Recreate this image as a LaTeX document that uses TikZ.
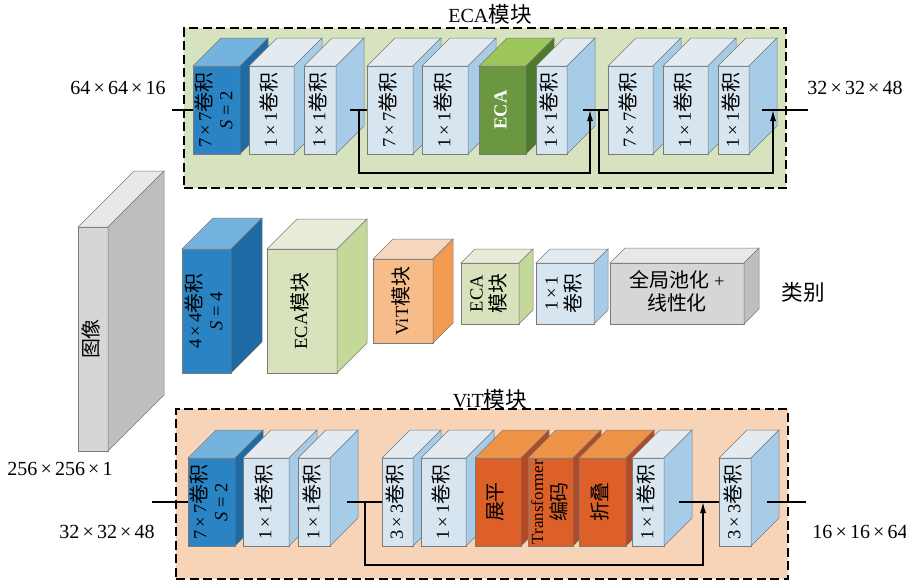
\documentclass[tikz,border=0pt]{standalone}
\usepackage{fontspec}
\setmainfont{Liberation Serif}
\newfontfamily\zhfont{Noto Sans CJK SC}[Scale=1.08]
\usetikzlibrary{arrows.meta}

% face colours: f = front, t = top, s = side
\definecolor{dbluef}{HTML}{2A84C4}\definecolor{dbluet}{HTML}{75B3DF}\definecolor{dblues}{HTML}{1E6AA4}
\definecolor{lbluef}{HTML}{D6E5EF}\definecolor{lbluet}{HTML}{E3EBF0}\definecolor{lblues}{HTML}{A7CCE7}
\definecolor{greenf}{HTML}{6A973F}\definecolor{greent}{HTML}{9DC65A}\definecolor{greens}{HTML}{4E7A2F}
\definecolor{oredf}{HTML}{DD6028}\definecolor{oredt}{HTML}{EE9448}\definecolor{oreds}{HTML}{B34A27}
\definecolor{orangef}{HTML}{F6BC8A}\definecolor{oranget}{HTML}{F6D6BD}\definecolor{oranges}{HTML}{F29A50}
\definecolor{mgreenf}{HTML}{D8E3BE}\definecolor{mgreent}{HTML}{E7EBD8}\definecolor{mgreens}{HTML}{C4D898}
\definecolor{grayf}{HTML}{D5D6D8}\definecolor{grayt}{HTML}{E8E8E9}\definecolor{grays}{HTML}{BDBEBF}
\definecolor{ecabg}{HTML}{D7E3BE}
\definecolor{vitbg}{HTML}{F7D4B8}
\definecolor{edgegray}{HTML}{7A7A7A}

\newcommand{\cn}[1]{{\zhfont #1}}
\newcommand{\tms}{\hspace{0.16em}×\hspace{0.16em}}
\newcommand{\rot}[1]{\rotatebox{90}{\begin{tabular}{@{}c@{}}#1\end{tabular}}}

% cuboid: name, x, y, width, height, depth, colour, text
\newcommand{\block}[8]{%
  \node[face, fill=#7f, minimum width=#4pt, minimum height=#5pt] (#1) at (#2,#3) {#8};
  \filldraw[edge, fill=#7t] (#1.north west) -- ++(#6,-#6) -- ++(#4,0) -- (#1.north east) -- cycle;
  \filldraw[edge, fill=#7s] (#1.north east) -- ++(#6,-#6) -- ++(0,#5) -- (#1.south east) -- cycle;
}

\tikzset{
  face/.style={draw=edgegray, line width=0.5pt, inner sep=0pt, outer sep=0pt, anchor=north west},
  edge/.style={draw=edgegray, line width=0.5pt},
  module/.style={draw, dash pattern=on 9pt off 4.5pt, line width=1.2pt, inner sep=0pt, outer sep=0pt, anchor=north west},
  lab/.style={font=\fontsize{20}{24}\selectfont},
  line/.style={line width=1.3pt},
  arr/.style={line width=1.3pt, -{Latex[length=11pt,width=6pt]}}
}

\begin{document}
\begin{tikzpicture}[x=1pt, y=-1pt, font=\fontsize{18.5}{21}\selectfont]
  \useasboundingbox (0,0) rectangle (906,581);

  % ECA module
  \node[module, fill=ecabg, minimum width=602pt, minimum height=160pt] (ecabox) at (184,28) {};
  \node[lab] (ecatitle) at (490,14) {ECA\cn{模块}};
  \block{e1}{193}{66}{47}{88}{28}{dblue}{\rot{7\tms7\cn{卷积}\\\textit{S} = 2}}
  \block{e2}{249}{66}{45}{88}{28}{lblue}{\rot{1\tms1\cn{卷积}}}
  \block{e3}{304}{66}{32}{88}{28}{lblue}{\rot{1\tms1\cn{卷积}}}
  \block{e4}{367}{66}{46}{88}{28}{lblue}{\rot{7\tms7\cn{卷积}}}
  \block{e5}{422}{66}{46}{88}{28}{lblue}{\rot{1\tms1\cn{卷积}}}
  \block{e6}{479}{66}{47}{88}{28}{green}{\rot{\color{white}\bfseries ECA}}
  \block{e7}{536}{66}{31}{88}{28}{lblue}{\rot{1\tms1\cn{卷积}}}
  \block{e8}{608}{66}{45}{88}{28}{lblue}{\rot{7\tms7\cn{卷积}}}
  \block{e9}{663}{66}{45}{88}{28}{lblue}{\rot{1\tms1\cn{卷积}}}
  \block{e10}{718}{66}{31}{88}{28}{lblue}{\rot{1\tms1\cn{卷积}}}

  \coordinate (ein) at (172,110);
  \coordinate (eout) at (808,110);
  \node[lab] (einlab) at (118,88) {64\tms64\tms16};
  \node[lab] (eoutlab) at (855,88) {32\tms32\tms48};
  \draw[line] (ein) -- (e1.west);
  \draw[line] ([xshift=14pt]e3.east) -- (e4.west);
  \draw[arr] ([xshift=23pt]e3.east) -- ++(0,63) -| ([xshift=23pt]e7.east);
  \draw[line] ([xshift=16pt]e7.east) -- (e8.west);
  \draw[arr] ([xshift=32pt]e7.east) -- ++(0,63) -| ([xshift=24pt]e10.east);
  \draw[line] ([xshift=13pt]e10.east) -- (eout);

  % main network
  \block{img}{78}{227}{30}{224}{56}{gray}{\rot{\cn{图像}}}
  \node[lab] (imglab) at (60,469) {256\tms256\tms1};
  \block{m1}{182}{249}{49}{124}{31}{dblue}{\rot{4\tms4\cn{卷积}\\\textit{S} = 4}}
  \block{m2}{267}{249}{70}{124}{30}{mgreen}{\rot{ECA\cn{模块}}}
  \block{m3}{373}{259}{60}{84}{20}{orange}{\rot{ViT\cn{模块}}}
  \block{m4}{461}{263}{58}{61}{14}{mgreen}{\rot{ECA\\\cn{模块}}}
  \block{m5}{536}{263}{58}{61}{14}{lblue}{\rot{1\tms1\\\cn{卷积}}}
  \block{m6}{610}{263}{134}{61}{15}{gray}{\begin{tabular}{@{}c@{}}\cn{全局池化} +\\\cn{线性化}\end{tabular}}
  \node[lab] (cls) at (803,292) {\cn{类别}};

  % ViT module
  \node[module, fill=vitbg, minimum width=612pt, minimum height=170pt] (vitbox) at (176,409) {};
  \node[lab] (vittitle) at (490,399) {ViT\cn{模块}};
  \block{v1}{188}{458}{47}{88}{28}{dblue}{\rot{7\tms7\cn{卷积}\\\textit{S} = 2}}
  \block{v2}{243}{458}{46}{88}{28}{lblue}{\rot{1\tms1\cn{卷积}}}
  \block{v3}{298}{458}{32}{88}{28}{lblue}{\rot{1\tms1\cn{卷积}}}
  \block{v4}{382}{458}{31}{88}{28}{lblue}{\rot{3\tms3\cn{卷积}}}
  \block{v5}{421}{458}{45}{88}{28}{lblue}{\rot{1\tms1\cn{卷积}}}
  \block{v6}{475}{458}{46}{88}{28}{ored}{\rot{\cn{展平}}}
  \block{v7}{528}{458}{45}{88}{28}{ored}{\rot{{\fontsize{17}{20}\selectfont Transformer}\\\cn{编码}}}
  \block{v8}{579}{458}{47}{88}{28}{ored}{\rot{\cn{折叠}}}
  \block{v9}{632}{458}{32}{88}{28}{lblue}{\rot{1\tms1\cn{卷积}}}
  \block{v10}{719}{458}{32}{88}{28}{lblue}{\rot{3\tms3\cn{卷积}}}

  \coordinate (vin) at (152,502);
  \coordinate (vout) at (806,502);
  \node[lab] (vinlab) at (107,532) {32\tms32\tms48};
  \node[lab] (voutlab) at (860,532) {16\tms16\tms64};
  \draw[line] (vin) -- (v1.west);
  \draw[line] ([xshift=17pt]v3.east) -- (v4.west);
  \draw[arr] ([xshift=35pt]v3.east) -- ++(0,63) -| ([xshift=39pt]v9.east);
  \draw[line] ([xshift=15pt]v9.east) -- (v10.west);
  \draw[line] ([xshift=16pt]v10.east) -- (vout);
\end{tikzpicture}
\end{document}
